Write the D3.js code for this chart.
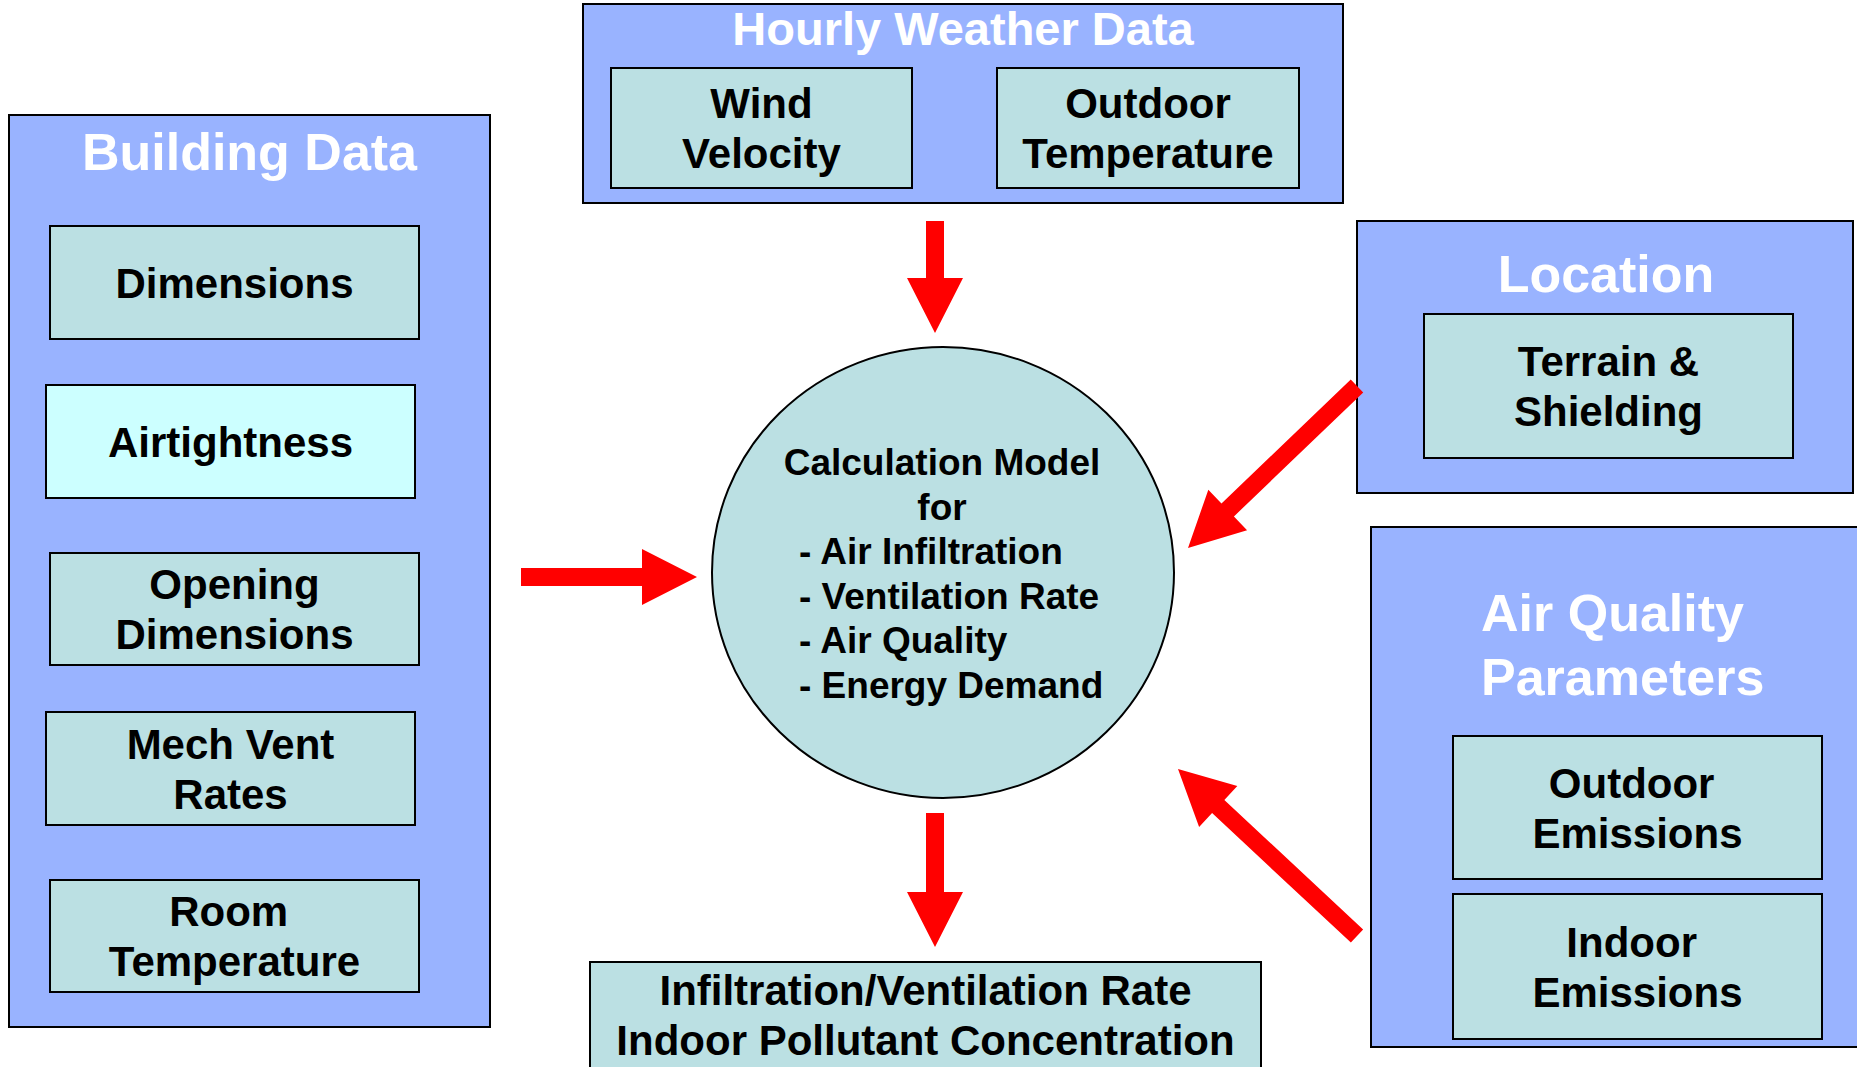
<!DOCTYPE html>
<html>
<head>
<meta charset="utf-8">
<script src="https://cdn.jsdelivr.net/npm/d3@7"></script>
<style>
  body { margin: 0; background: #fff; }
  svg { display: block; font-family: Arial, "Liberation Sans", sans-serif; font-weight: bold; }
  text { white-space: pre; }
</style>
</head>
<body>
<svg width="1857" height="1067"></svg>
<script>
const svg = d3.select('svg');

const width = +svg.attr('width');
const height = +svg.attr('height');

// labels of the diagram (trailing spaces kept as in the slide)
const buildingItems = [['Dimensions'], ['Airtightness'], ['Opening', 'Dimensions'], ['Mech Vent', 'Rates'], ['Room ', 'Temperature']];
const weatherItems = [['Wind', 'Velocity'], ['Outdoor', 'Temperature']];
const locationItems = [['Terrain &', 'Shielding']];
const airQualityItems = [['Outdoor ', 'Emissions'], ['Indoor ', 'Emissions']];
const modelTitle = ['Calculation Model', 'for'];
const modelBullets = ['- Air Infiltration', '- Ventilation Rate', '- Air Quality', '- Energy Demand'];
const outputLines = ['Infiltration/Ventilation Rate', 'Indoor Pollutant Concentration'];

//layout of the sheet (design units = pixels of the original slide)
const x = d3.scaleLinear().domain([0, 1857]).range([0, width]);
const y = d3.scaleLinear().domain([0, 1067]).range([0, height]);

const outerFill = '#99b3ff';
const innerFill = '#bbe0e3';
const arrowRed = '#ff0000';

const groups = [
  { title: ['Building Data'], box: [9, 115, 481, 912], titleX: 249.5, titleY: 170, size: 52, anchor: 'middle',
    items: buildingItems,
    boxes: [[50, 226, 369, 113], [46, 385, 369, 113], [50, 553, 369, 112], [46, 712, 369, 113], [50, 880, 369, 112]],
    fills: [innerFill, '#ccffff', innerFill, innerFill, innerFill] },
  { title: ['Hourly Weather Data'], box: [583, 4, 760, 199], titleX: 963, titleY: 45, size: 47, anchor: 'middle',
    items: weatherItems,
    boxes: [[611, 68, 301, 120], [997, 68, 302, 120]] },
  { title: ['Location'], box: [1357, 221, 496, 272], titleX: 1606, titleY: 292, size: 52, anchor: 'middle',
    items: locationItems,
    boxes: [[1424, 314, 369, 144]] },
  { title: ['Air Quality', 'Parameters'], box: [1371, 527, 500, 520], titleX: 1481, titleY: 631, size: 52, anchor: 'start',
    items: airQualityItems,
    boxes: [[1453, 736, 369, 143], [1453, 894, 369, 145]] }
];

const arrows = [
  { from: [935, 221], to: [935, 333] },
  { from: [521, 577], to: [697, 577] },
  { from: [935, 813], to: [935, 947] },
  { from: [1357, 386], to: [1188, 548] },
  { from: [1357, 936], to: [1178, 769] }
];

const circle = { cx: 943, cy: 572.5, rx: 231, ry: 225.5 };
const outputBox = [590, 962, 671, 120];

//draw a rectangle with centred multi-line text
const labelBox = (selection, props) => {
  const { box, lines, fill, size, lineGap } = props;
  const [bx, by, bw, bh] = box;
  selection.append('rect')
    .attr('x', x(bx)).attr('y', y(by))
    .attr('width', x(bw)).attr('height', y(bh))
    .attr('fill', fill)
    .attr('stroke', '#000')
    .attr('stroke-width', 2);
  const cy = by + bh / 2;
  const first = cy - (lines.length - 1) * lineGap / 2 + size * 0.36;
  selection.selectAll(null).data(lines).enter().append('text')
    .attr('x', x(bx + bw / 2))
    .attr('y', (d, i) => y(first + i * lineGap))
    .attr('text-anchor', 'middle')
    .attr('font-size', size)
    .attr('fill', '#000')
    .text(d => d);
};

//arrow as a polygon from tail to tip
const arrowPath = (from, to) => {
  const shaft = 18, headW = 56, headL = 55;
  const dx = to[0] - from[0], dy = to[1] - from[1];
  const len = Math.hypot(dx, dy);
  const ux = dx / len, uy = dy / len;
  const px = -uy, py = ux;
  const bx = to[0] - ux * headL, by = to[1] - uy * headL;
  const pts = [
    [from[0] + px * shaft / 2, from[1] + py * shaft / 2],
    [bx + px * shaft / 2, by + py * shaft / 2],
    [bx + px * headW / 2, by + py * headW / 2],
    to,
    [bx - px * headW / 2, by - py * headW / 2],
    [bx - px * shaft / 2, by - py * shaft / 2],
    [from[0] - px * shaft / 2, from[1] - py * shaft / 2]
  ];
  return d3.line().x(d => x(d[0])).y(d => y(d[1]))(pts) + 'Z';
};

//input groups
groups.forEach(gr => {
  const g = svg.append('g');
  const [bx, by, bw, bh] = gr.box;
  g.append('rect')
    .attr('x', x(bx)).attr('y', y(by))
    .attr('width', x(bw)).attr('height', y(bh))
    .attr('fill', outerFill)
    .attr('stroke', '#000')
    .attr('stroke-width', 2);
  g.selectAll('.title').data(gr.title).enter().append('text')
    .attr('class', 'title')
    .attr('x', x(gr.titleX))
    .attr('y', (d, i) => y(gr.titleY + i * 64))
    .attr('text-anchor', gr.anchor)
    .attr('font-size', gr.size)
    .attr('fill', '#fff')
    .text(d => d);
  gr.items.forEach((lines, i) => {
    g.append('g').call(labelBox, {
      box: gr.boxes[i],
      lines,
      fill: gr.fills ? gr.fills[i] : innerFill,
      size: 42,
      lineGap: 50
    });
  });
});

//calculation model
svg.append('ellipse')
  .attr('cx', x(circle.cx)).attr('cy', y(circle.cy))
  .attr('rx', x(circle.rx)).attr('ry', y(circle.ry))
  .attr('fill', innerFill)
  .attr('stroke', '#000')
  .attr('stroke-width', 2);

svg.selectAll('.model-title').data(modelTitle).enter().append('text')
  .attr('class', 'model-title')
  .attr('x', x(942))
  .attr('y', (d, i) => y(475 + i * 44.5))
  .attr('text-anchor', 'middle')
  .attr('font-size', 37)
  .text(d => d);

svg.selectAll('.model-bullet').data(modelBullets).enter().append('text')
  .attr('class', 'model-bullet')
  .attr('x', x(799))
  .attr('y', (d, i) => y(475 + (i + 2) * 44.5))
  .attr('font-size', 37)
  .text(d => d);

//result box
svg.append('g').call(labelBox, {
  box: outputBox,
  lines: [],
  fill: innerFill,
  size: 42,
  lineGap: 50
});
svg.selectAll('.output').data(outputLines).enter().append('text')
  .attr('class', 'output')
  .attr('x', x(925.5))
  .attr('y', (d, i) => y(1005 + i * 50))
  .attr('text-anchor', 'middle')
  .attr('font-size', 42)
  .text(d => d);

//red arrows on top
svg.selectAll('.arrow').data(arrows).enter().append('path')
  .attr('class', 'arrow')
  .attr('d', d => arrowPath(d.from, d.to))
  .attr('fill', arrowRed);
</script>
</body>
</html>
